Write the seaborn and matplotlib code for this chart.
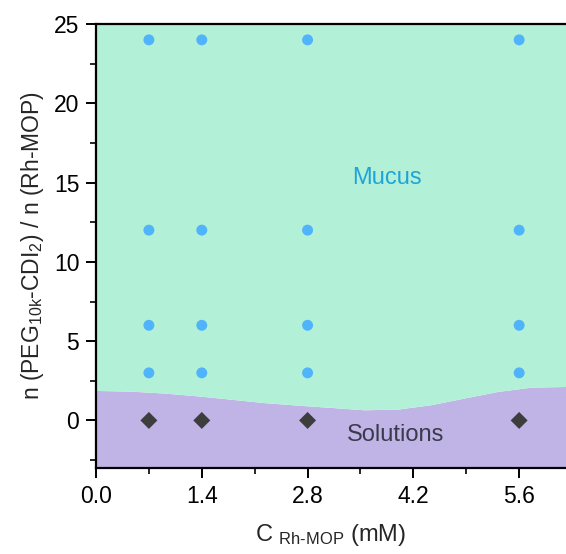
import matplotlib
matplotlib.use("Agg")
import matplotlib.pyplot as plt
import seaborn as sns
import pandas as pd
import numpy as np
from matplotlib.ticker import MultipleLocator

# Data
conc = [0.7, 1.4, 2.8, 5.6]
ratios_mucus = [3, 6, 12, 24]
ratio_solution = 0
boundary_x = [0.0, 0.44, 0.89, 1.32, 1.76, 2.21, 2.65, 3.11, 3.55, 4.0, 4.43, 4.87, 5.32, 5.76, 6.22]
boundary_y = [1.89, 1.85, 1.73, 1.56, 1.35, 1.13, 0.97, 0.82, 0.67, 0.72, 0.99, 1.41, 1.83, 2.10, 2.14]
xticks = [0.0, 1.4, 2.8, 4.2, 5.6]
yticks = [0, 5, 10, 15, 20, 25]

mucus = pd.DataFrame([(c, r) for c in conc for r in ratios_mucus], columns=["x", "y"])
sol = pd.DataFrame({"x": conc, "y": [ratio_solution] * len(conc)})

sns.set_style("ticks")
plt.rcParams['font.family'] = ['Liberation Sans', 'DejaVu Sans']
plt.rcParams['mathtext.fontset'] = 'custom'
plt.rcParams['mathtext.rm'] = 'Liberation Sans'
plt.rcParams['mathtext.it'] = 'Liberation Sans'

fig = plt.figure(figsize=(5.66, 5.54), dpi=100)
ax = fig.add_axes([96/566, 86/554, 1 - 96/566, (468-24)/554])

xmin, xmax, ymin, ymax = 0, 6.22, -3, 25
ax.fill_between(boundary_x, ymin, boundary_y, color="#c0b4e6", lw=0, zorder=0)
ax.fill_between(boundary_x, boundary_y, ymax, color="#b3f0d8", lw=0, zorder=0)

sns.scatterplot(data=mucus, x="x", y="y", ax=ax, color="#4fb4fb", s=62,
                marker="o", edgecolor="none", zorder=3)
sns.scatterplot(data=sol, x="x", y="y", ax=ax, color="#3d3d3d", s=75,
                marker="D", edgecolor="none", zorder=3)

ax.text(3.85, 15.3, "Mucus", color="#1ea4d8", fontsize=17, ha="center", va="center")
ax.text(3.96, -0.9, "Solutions", color="#3b3a4c", fontsize=17, ha="center", va="center")

ax.set_xlim(xmin, xmax)
ax.set_ylim(ymin, ymax)
ax.set_xticks(xticks)
ax.set_xticklabels([f"{t:.1f}" for t in xticks])
ax.set_yticks(yticks)
ax.xaxis.set_minor_locator(MultipleLocator(0.7))
ax.yaxis.set_minor_locator(MultipleLocator(2.5))
ax.tick_params(which="major", direction="out", length=7, width=1.4, labelsize=16.5,
               colors="black", pad=5)
ax.tick_params(which="minor", direction="out", length=4, width=1.4)
ax.tick_params(top=False, right=False, which="both")

for s in ["left", "bottom", "top"]:
    ax.spines[s].set_linewidth(1.6)
    ax.spines[s].set_color("black")
ax.spines["right"].set_visible(False)

ax.set_xlabel(r"C $_{\mathrm{Rh\text{-}MOP}}$ (mM)", fontsize=17, labelpad=10)
ax.set_ylabel(r"n (PEG$_{\mathrm{10k}}$-CDI$_{2}$) / n (Rh-MOP)", fontsize=16.5, labelpad=6)

fig.savefig("out.png", dpi=100)
